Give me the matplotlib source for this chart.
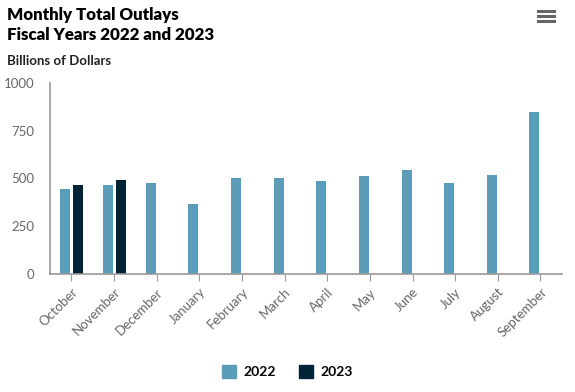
import matplotlib.pyplot as plt
import numpy as np
from matplotlib.lines import Line2D
from matplotlib.patches import Patch

plt.rcParams['font.family'] = ['Lato', 'DejaVu Sans']

months = ['October', 'November', 'December', 'January', 'February', 'March',
          'April', 'May', 'June', 'July', 'August', 'September']
outlays_2022 = [444, 465, 476, 366, 502, 502, 486, 512, 544, 476, 517, 847]  # $B
outlays_2023 = [465, 491]  # only Oct and Nov so far
yticks = [0, 250, 500, 750, 1000]

col_2022 = '#5b9db8'
col_2023 = '#022335'
grey = '#666666'

fig = plt.figure(figsize=(5.75, 3.92), dpi=100)
ax = fig.add_axes([0.087, 0.301, 0.890, 0.488])

x = np.arange(len(months))
w = 0.235
ax.bar(x - 0.14, outlays_2022, w, color=col_2022)
ax.bar(x[:len(outlays_2023)] + 0.16, outlays_2023, w, color=col_2023)

ax.set_xlim(-0.5, len(months) - 0.5)
ax.set_ylim(0, 1000)
ax.set_yticks(yticks)
ax.set_xticks(x)
ax.set_xticklabels(months, rotation=45, ha='right', rotation_mode='anchor')

for s in ['top', 'right']:
    ax.spines[s].set_visible(False)
for s in ['left', 'bottom']:
    ax.spines[s].set_color('#999999')
    ax.spines[s].set_linewidth(1.2)
ax.tick_params(axis='x', colors='#999999', labelcolor=grey, labelsize=9.5, length=5)
ax.tick_params(axis='y', labelcolor=grey, labelsize=9.5, length=0, pad=11)

fig.text(0.012, 0.982, 'Monthly Total Outlays\nFiscal Years 2022 and 2023',
         fontsize=12.2, fontweight='heavy', va='top', ha='left', linespacing=1.3)
fig.text(0.012, 0.845, 'Billions of Dollars', fontsize=9.5, fontweight='bold',
         va='center', ha='left', color='#222222')

# menu icon
for yy in [0.972, 0.959, 0.946]:
    fig.add_artist(Line2D([0.935, 0.963], [yy, yy], color='#666666', lw=2.2,
                          transform=fig.transFigure))

handles = [Patch(color=col_2022, label='2022'), Patch(color=col_2023, label='2023')]
leg = fig.legend(handles=handles, loc='center', bbox_to_anchor=(0.5, 0.052), ncol=2,
                 frameon=False, fontsize=10, handlelength=1.0, handleheight=1.0,
                 columnspacing=1.6, handletextpad=0.6)
for t in leg.get_texts():
    t.set_fontweight('bold')

fig.savefig('out.png', dpi=100)
